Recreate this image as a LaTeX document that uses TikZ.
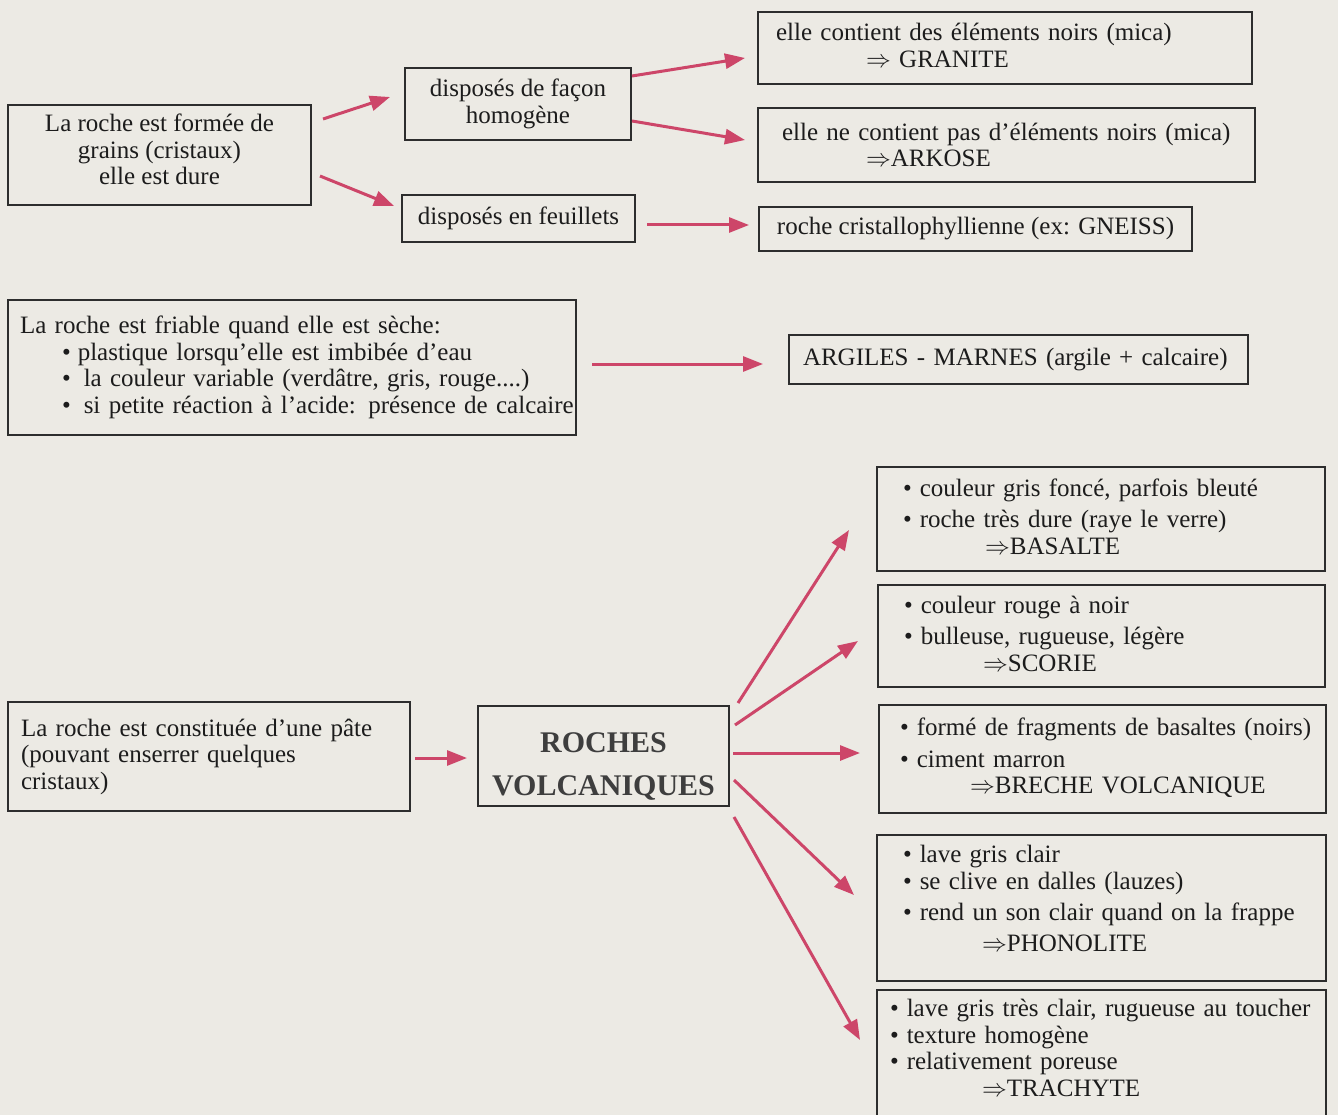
\documentclass[tikz,border=0pt]{standalone}
\usepackage{fontspec}
\setmainfont{Liberation Serif}
\usetikzlibrary{arrows.meta}
\definecolor{bg}{RGB}{236,234,228}
\definecolor{ink}{RGB}{28,28,28}
\definecolor{frame}{RGB}{45,45,45}
\definecolor{arrc}{RGB}{205,70,105}
\definecolor{titlec}{RGB}{62,62,62}
\newcommand\fs{\fontsize{25}{26.5}\selectfont}
\newcommand\bul{\textbullet\hspace{8pt}}
\newcommand\concl[1]{\hspace*{#1}$\Rightarrow$}
\newcommand\lift[1]{\rule[-#1]{0pt}{1pt}}
\begin{document}
\begin{tikzpicture}[x=1pt,y=-1pt,
  box/.style={draw=frame, line width=1.4pt, text=ink, font=\fs, anchor=north west, inner sep=0pt, outer sep=0pt},
  cbox/.style={box, align=center},
  lbox/.style={box, align=left},
  arr/.style={draw=arrc, line width=3pt, -{Triangle[length=20pt,width=15pt]}}
]
\clip (0,0) rectangle (1338,1115);
\fill[bg] (0,0) rectangle (1338,1115);

% top group
\node[cbox, minimum width=303pt, minimum height=100pt] (A) at (8,105)
  {La roche est formée de\\grains (cristaux)\\elle est dure\lift{11pt}};
\node[cbox, minimum width=226pt, minimum height=72pt] (B) at (405,68)
  {disposés de façon\\homogène};
\node[cbox, minimum width=233pt, minimum height=47pt] (C) at (402,195)
  {disposés en feuillets};
\node[lbox, inner xsep=18pt, text width=458pt, minimum height=72pt] (D) at (758,12)
  {\mbox{elle contient des éléments noirs (mica)}\\\concl{90pt} GRANITE\lift{5pt}};
\node[lbox, inner xsep=24pt, text width=449pt, minimum height=74pt] (E) at (758,108)
  {\mbox{elle ne contient pas d’éléments noirs (mica)}\\\concl{84pt}ARKOSE};
\node[cbox, minimum width=433pt, minimum height=44pt] (F) at (759,207)
  {roche cristallophyllienne (ex: GNEISS)};

% middle group
\node[lbox, inner xsep=12pt, text width=544pt, minimum height=135pt] (G) at (8,300)
  {\mbox{La roche est friable quand elle est sèche:}\\
   \mbox{\hspace*{42pt}\textbullet\hspace{7pt}plastique lorsqu’elle est imbibée d’eau}\\
   \mbox{\hspace*{42pt}\textbullet\hspace{13pt}la couleur variable (verdâtre, gris, rouge....)}\\
   \mbox{\hspace*{42pt}\textbullet\hspace{13pt}si petite réaction à l’acide: présence de calcaire}};
\node[lbox, inner xsep=14pt, text width=431pt, minimum height=49pt] (H) at (789,335)
  {\mbox{ARGILES - MARNES (argile + calcaire)}};

% volcanic group
\node[lbox, inner xsep=13pt, text width=376pt, minimum height=109pt] (I) at (8,702)
  {\mbox{La roche est constituée d’une pâte}\\(pouvant enserrer quelques\\cristaux)};
\node[cbox, minimum width=251pt, minimum height=100pt, text=titlec,
      font=\bfseries\fontsize{30}{43}\selectfont] (J) at (478,706)
  {\rule{0pt}{40pt}ROCHES\\VOLCANIQUES};
\node[lbox, inner xsep=26pt, text width=396pt, minimum height=104pt] (K) at (877,467)
  {\mbox{\bul couleur gris foncé, parfois bleuté}\\[5pt]\mbox{\bul roche très dure (raye le verre)}\\\concl{82pt}BASALTE\lift{5pt}};
\node[lbox, inner xsep=26pt, text width=395pt, minimum height=102pt] (L) at (878,585)
  {\bul couleur rouge à noir\\[5pt]\mbox{\bul bulleuse, rugueuse, légère}\\\concl{79pt}SCORIE\lift{5pt}};
\node[lbox, inner xsep=21pt, text width=405pt, minimum height=108pt] (M) at (879,705)
  {\mbox{\bul formé de fragments de basaltes (noirs)}\\[5pt]\bul ciment marron\\\concl{70pt}\mbox{BRECHE VOLCANIQUE}\lift{6pt}};
\node[lbox, inner xsep=26pt, text width=397pt, minimum height=146pt] (N) at (877,835)
  {\bul lave gris clair\\\mbox{\bul se clive en dalles (lauzes)}\\[5pt]\mbox{\bul rend un son clair quand on la frappe}\\[4pt]\concl{79pt}PHONOLITE\lift{19pt}};
\node[lbox, inner xsep=13pt, text width=423pt, minimum height=128pt] (O) at (877,990)
  {\mbox{\textbullet\hspace{8pt}lave gris très clair, rugueuse au toucher}\\\textbullet\hspace{8pt}texture homogène\\\mbox{\textbullet\hspace{8pt}relativement poreuse}\\\concl{92pt}TRACHYTE\lift{12pt}};

% arrow end points
\coordinate (ab1) at (323,119);  \coordinate (ab2) at (390,97);
\coordinate (ac1) at (320,176);  \coordinate (ac2) at (394,206);
\coordinate (bd1) at (632,76);   \coordinate (bd2) at (745,58);
\coordinate (be1) at (632,121);  \coordinate (be2) at (745,140);
\coordinate (cf1) at (647,225);  \coordinate (cf2) at (749,225);
\coordinate (gh1) at (592,364);  \coordinate (gh2) at (763,364);
\coordinate (ij1) at (415,758);  \coordinate (ij2) at (467,758);
\coordinate (jk1) at (738,703);  \coordinate (jk2) at (849,530);
\coordinate (jl1) at (735,725);  \coordinate (jl2) at (858,641);
\coordinate (jm1) at (733,753);  \coordinate (jm2) at (860,753);
\coordinate (jn1) at (734,780);  \coordinate (jn2) at (854,895);
\coordinate (jo1) at (734,817);  \coordinate (jo2) at (860,1040);

\draw[arr] (ab1) -- (ab2);
\draw[arr] (ac1) -- (ac2);
\draw[arr] (bd1) -- (bd2);
\draw[arr] (be1) -- (be2);
\draw[arr] (cf1) -- (cf2);
\draw[arr] (gh1) -- (gh2);
\draw[arr] (ij1) -- (ij2);
\draw[arr] (jk1) -- (jk2);
\draw[arr] (jl1) -- (jl2);
\draw[arr] (jm1) -- (jm2);
\draw[arr] (jn1) -- (jn2);
\draw[arr] (jo1) -- (jo2);
\end{tikzpicture}
\end{document}
